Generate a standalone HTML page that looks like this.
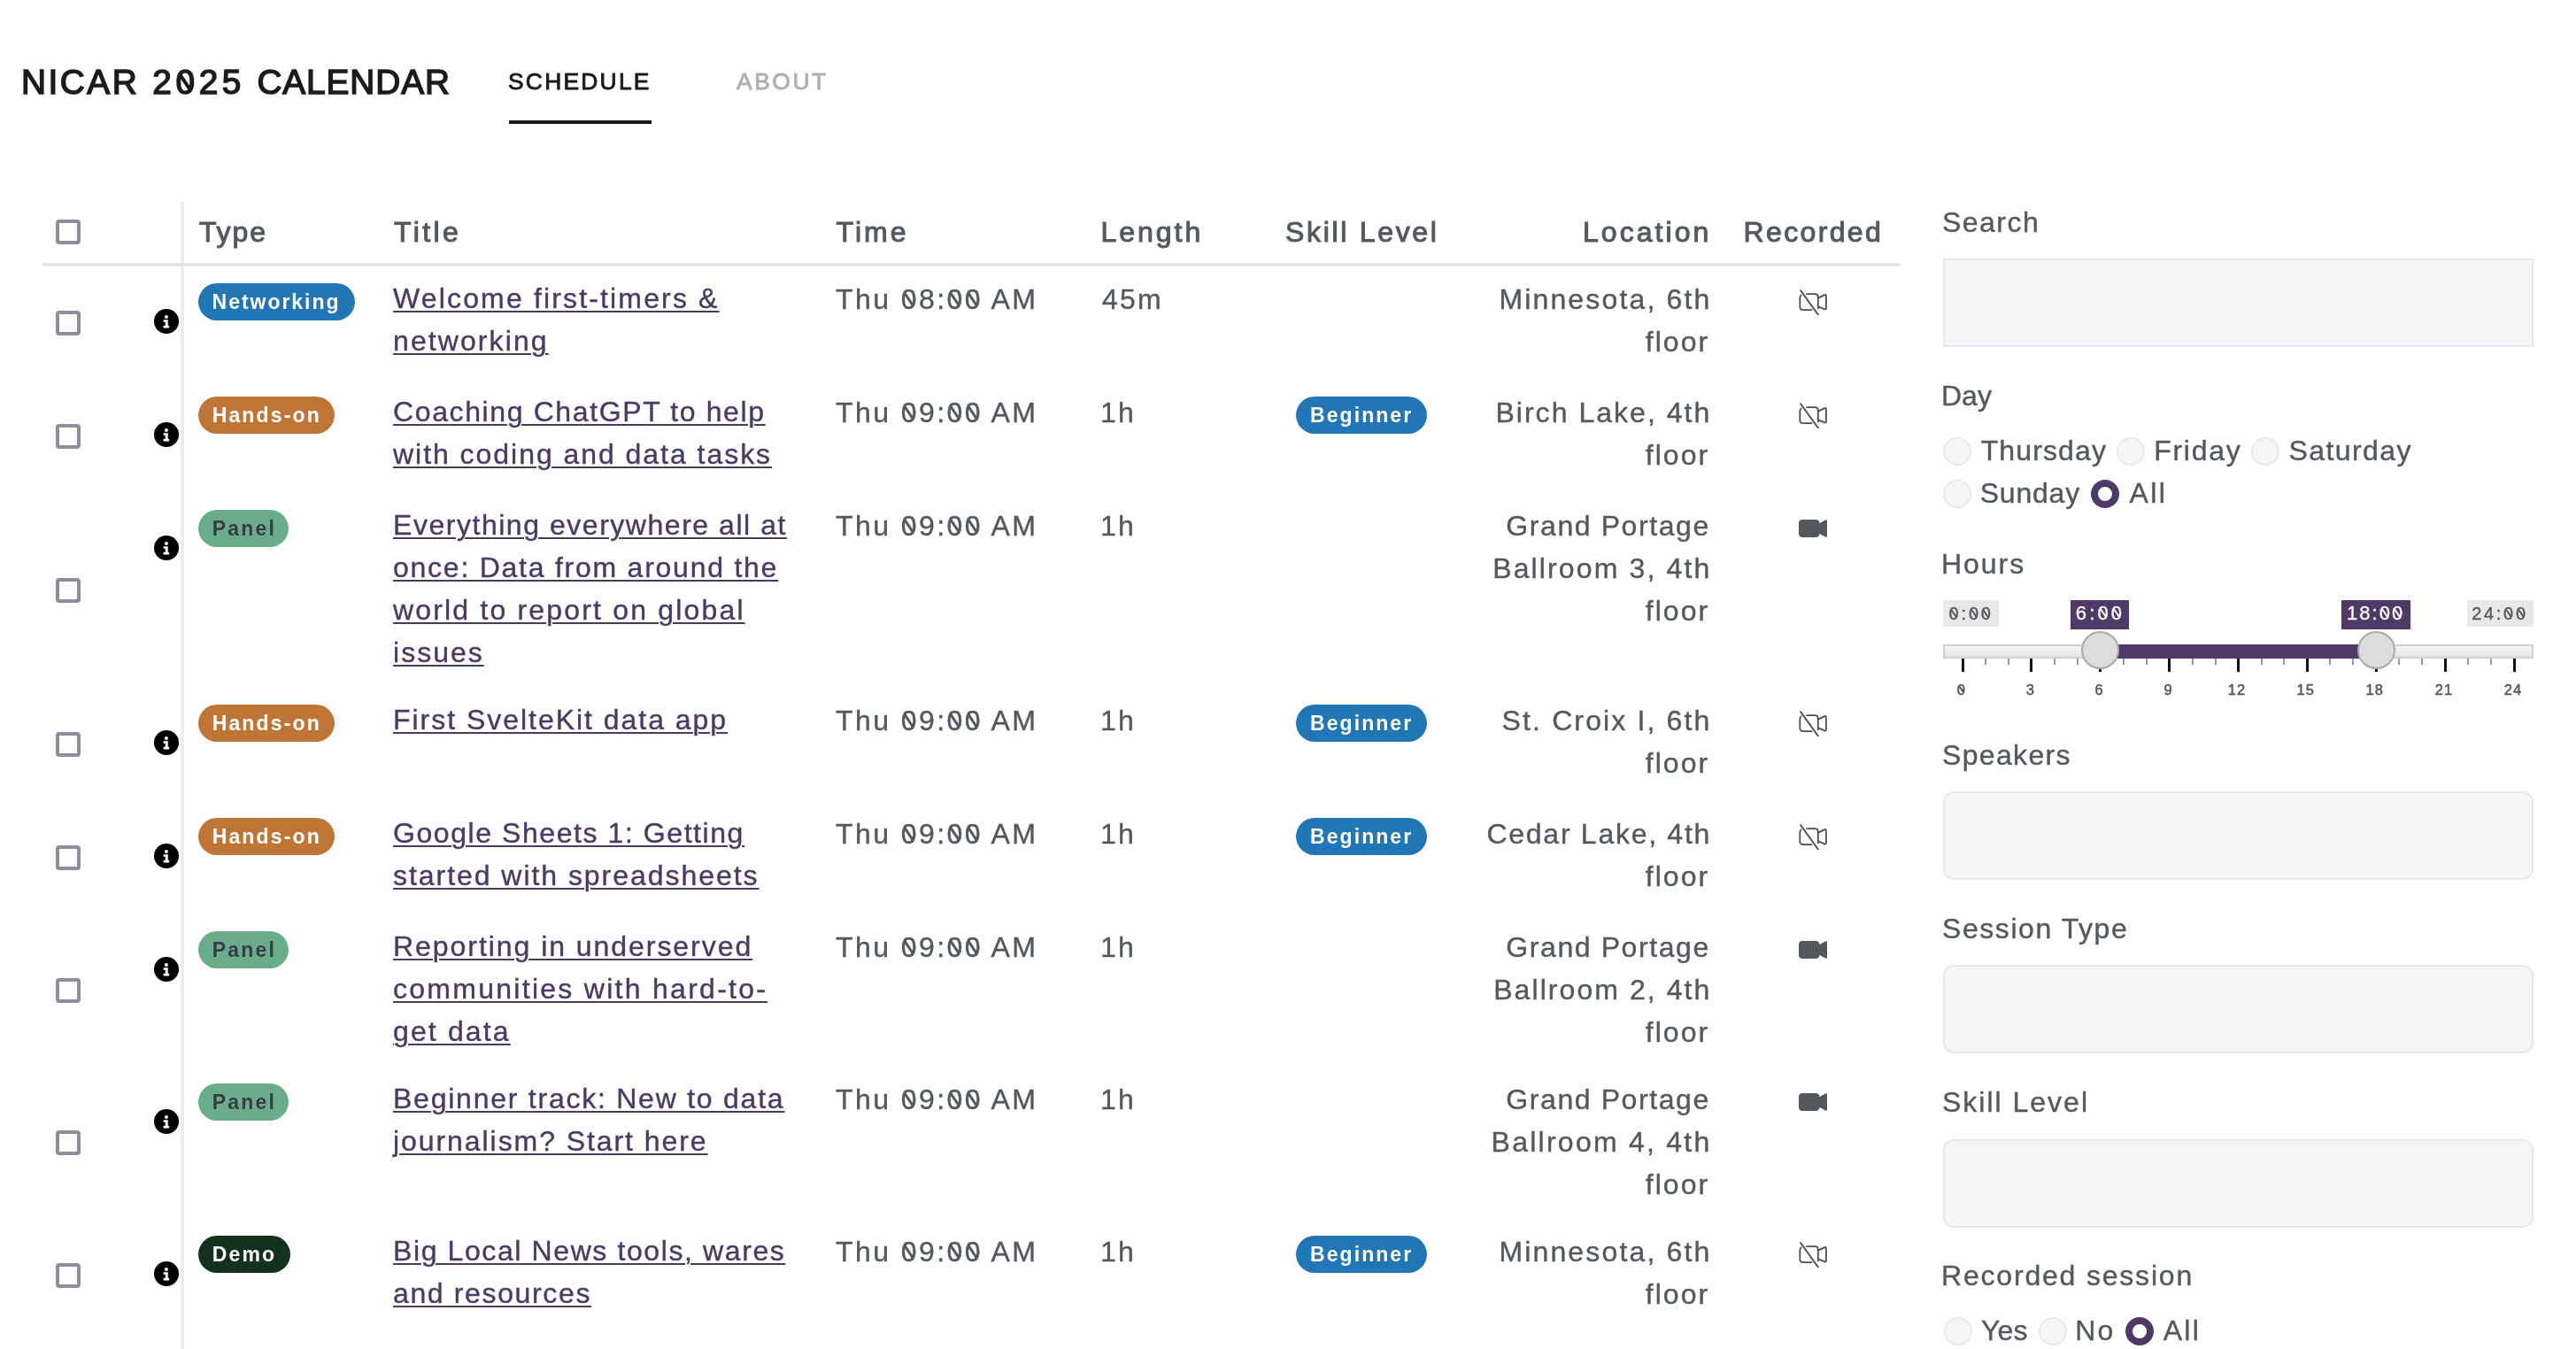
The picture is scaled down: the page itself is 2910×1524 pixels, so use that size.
<!DOCTYPE html><html><head><meta charset="utf-8"><style>
html,body{margin:0;padding:0;background:#fff}
body{width:2910px;height:1524px;position:relative;overflow:hidden;will-change:transform;font-family:"Liberation Sans",sans-serif}
.a{position:absolute;white-space:nowrap}
@media (max-width:2000px){html{zoom:0.5}}
.cb{position:absolute;left:63px;width:19.6px;height:19.6px;border:4px solid #8e8c9c;border-radius:4px;background:#fff}
.info{position:absolute;left:174px;width:28px;height:28px;border-radius:50%;background:#000}
.bd{position:absolute;height:42px;border-radius:21px}
.inp{position:absolute;left:2195px;width:663px;height:96px;border:2px solid #e8e9ec;background:#f5f6f8;border-radius:12px}
.rd{position:absolute;width:28px;height:28px;border:2px solid #e8e9ec;background:#f5f6f8;border-radius:50%}
.rs{position:absolute;width:16px;height:16px;border:8px solid #4f3966;background:#fff;border-radius:50%}
.u{text-decoration:underline;text-decoration-thickness:2px;text-underline-offset:3px}
</style></head><body>
<div class="a" style="left:23.95px;top:68.06px;font-size:38.8px;line-height:50px;color:#1b1b1b;font-weight:400;letter-spacing:2.502px;font-family:'Liberation Sans', sans-serif;-webkit-text-stroke:1.5px #1b1b1b;">NICAR</div>
<div class="a" style="left:172.35px;top:68.06px;font-size:38.8px;line-height:50px;color:#1b1b1b;font-weight:400;letter-spacing:4.556px;font-family:'Liberation Sans', sans-serif;-webkit-text-stroke:1.5px #1b1b1b;">2<span style="position:relative">0<span style="position:absolute;left:9.00px;top:11.83px;width:3.57px;height:19.40px;background:currentColor;transform:rotate(-34deg)"></span></span>25</div>
<div class="a" style="left:290.45px;top:68.06px;font-size:38.8px;line-height:50px;color:#1b1b1b;font-weight:400;letter-spacing:0.891px;font-family:'Liberation Sans', sans-serif;-webkit-text-stroke:1.5px #1b1b1b;">CALENDAR</div>
<div class="a" style="left:574.00px;top:71.75px;font-size:26.4px;line-height:40px;color:#1b1b1b;font-weight:400;letter-spacing:2.241px;font-family:'Liberation Sans', sans-serif;-webkit-text-stroke:0.9px #1b1b1b;">SCHEDULE</div>
<div class="a" style="left:575px;top:136px;width:161px;height:4px;background:#1b1b1b"></div>
<div class="a" style="left:832.00px;top:71.75px;font-size:26.4px;line-height:40px;color:#b0b0b0;font-weight:400;letter-spacing:2.552px;font-family:'Liberation Sans', sans-serif;-webkit-text-stroke:0.9px #b0b0b0;">ABOUT</div>
<div class="a" style="left:204px;top:228px;width:4px;height:1296px;background:#ececec"></div>
<div class="a" style="left:48px;top:297px;width:2099px;height:4px;background:#e6e6e6"></div>
<div class="cb" style="top:248px"></div>
<div class="a" style="left:224.90px;top:238.21px;font-size:32px;line-height:48px;color:#54595e;font-weight:400;letter-spacing:1.907px;font-family:'Liberation Sans', sans-serif;-webkit-text-stroke:1.05px #54595e;">Type</div>
<div class="a" style="left:445.00px;top:238.21px;font-size:32px;line-height:48px;color:#54595e;font-weight:400;letter-spacing:3.383px;font-family:'Liberation Sans', sans-serif;-webkit-text-stroke:1.05px #54595e;">Title</div>
<div class="a" style="left:944.50px;top:238.21px;font-size:32px;line-height:48px;color:#54595e;font-weight:400;letter-spacing:3.058px;font-family:'Liberation Sans', sans-serif;-webkit-text-stroke:1.05px #54595e;">Time</div>
<div class="a" style="left:1243.50px;top:238.21px;font-size:32px;line-height:48px;color:#54595e;font-weight:400;letter-spacing:2.984px;font-family:'Liberation Sans', sans-serif;-webkit-text-stroke:1.05px #54595e;">Length</div>
<div class="a" style="left:1452.00px;top:238.21px;font-size:32px;line-height:48px;color:#54595e;font-weight:400;letter-spacing:2.685px;font-family:'Liberation Sans', sans-serif;-webkit-text-stroke:1.05px #54595e;">Skill Level</div>
<div class="a" style="left:1788.00px;top:238.21px;font-size:32px;line-height:48px;color:#54595e;font-weight:400;letter-spacing:3.045px;font-family:'Liberation Sans', sans-serif;-webkit-text-stroke:1.05px #54595e;">Location</div>
<div class="a" style="left:1969.50px;top:238.21px;font-size:32px;line-height:48px;color:#54595e;font-weight:400;letter-spacing:2.364px;font-family:'Liberation Sans', sans-serif;-webkit-text-stroke:1.05px #54595e;">Recorded</div>
<div class="cb" style="top:351.2px"></div>
<div class="info" style="top:349.3px"><svg width="28" height="28" viewBox="0 0 28 28"><circle cx="13.9" cy="8.9" r="2" fill="#fff"/><path d="M10.9 12.6 H15.4 V19.1 H16.8 V21.2 H10.9 V19.1 H13.1 V14.4 H10.9 Z" fill="#fff" stroke="#fff" stroke-width="0.6" stroke-linejoin="round"/></svg></div>
<div class="bd" style="left:224px;top:320px;width:177px;background:#2176b5"></div>
<div class="a" style="left:239.60px;top:325.93px;font-size:23px;line-height:30px;color:#fff;font-weight:700;letter-spacing:1.969px;font-family:'Liberation Sans', sans-serif;">Networking</div>
<div class="a" style="left:444.00px;top:313.41px;font-size:32px;line-height:48px;color:#4b3b63;font-weight:400;letter-spacing:2.154px;font-family:'Liberation Sans', sans-serif;-webkit-text-stroke:0.4px #4b3b63;"><span class="u">Welcome first-timers &amp;</span></div>
<div class="a" style="left:444.00px;top:361.41px;font-size:32px;line-height:48px;color:#4b3b63;font-weight:400;letter-spacing:2.094px;font-family:'Liberation Sans', sans-serif;-webkit-text-stroke:0.4px #4b3b63;"><span class="u">networking</span></div>
<div class="a" style="left:944.00px;top:314.41px;font-size:32px;line-height:48px;color:#54595e;font-weight:400;letter-spacing:2.423px;font-family:'Liberation Sans', sans-serif;-webkit-text-stroke:0.4px #54595e;">Thu <span style="position:relative">0<span style="position:absolute;left:7.42px;top:9.76px;width:2.94px;height:16.00px;background:currentColor;transform:rotate(-34deg)"></span></span>8:<span style="position:relative">0<span style="position:absolute;left:7.42px;top:9.76px;width:2.94px;height:16.00px;background:currentColor;transform:rotate(-34deg)"></span></span><span style="position:relative">0<span style="position:absolute;left:7.42px;top:9.76px;width:2.94px;height:16.00px;background:currentColor;transform:rotate(-34deg)"></span></span> AM</div>
<div class="a" style="left:1245.00px;top:314.41px;font-size:32px;line-height:48px;color:#54595e;font-weight:400;letter-spacing:2.200px;font-family:'Liberation Sans', sans-serif;-webkit-text-stroke:0.4px #54595e;">45m</div>
<div class="a" style="left:1693.40px;top:314.41px;font-size:32px;line-height:48px;color:#54595e;font-weight:400;letter-spacing:2.153px;font-family:'Liberation Sans', sans-serif;-webkit-text-stroke:0.4px #54595e;">Minnesota, 6th</div>
<div class="a" style="left:1858.80px;top:362.41px;font-size:32px;line-height:48px;color:#54595e;font-weight:400;letter-spacing:2.027px;font-family:'Liberation Sans', sans-serif;-webkit-text-stroke:0.4px #54595e;">floor</div>
<svg class="a" style="left:2031px;top:326px" width="34" height="30" viewBox="0 0 34 30" fill="none" stroke="#4a4e52" stroke-width="1.8" stroke-linecap="round" stroke-linejoin="round"><g transform="translate(0.3,0.6)"><path d="M3.3 6.8 Q2 8 2 10 V20 Q2 23.5 5.5 23.5 H15.3"/><path d="M9.8 5.5 H19 Q22.5 5.5 22.5 9 V21.8"/><path d="M22.8 10 L30 6.5 Q31.6 6 31.6 7.8 V21.6 Q31.6 23.4 30 22.8 L22.8 19.8"/><path d="M2.8 1.5 L22.6 29"/></g></svg>
<div class="cb" style="top:479.2px"></div>
<div class="info" style="top:477.3px"><svg width="28" height="28" viewBox="0 0 28 28"><circle cx="13.9" cy="8.9" r="2" fill="#fff"/><path d="M10.9 12.6 H15.4 V19.1 H16.8 V21.2 H10.9 V19.1 H13.1 V14.4 H10.9 Z" fill="#fff" stroke="#fff" stroke-width="0.6" stroke-linejoin="round"/></svg></div>
<div class="bd" style="left:224px;top:448px;width:154px;background:#be7535"></div>
<div class="a" style="left:239.70px;top:453.93px;font-size:23px;line-height:30px;color:#fff;font-weight:700;letter-spacing:2.143px;font-family:'Liberation Sans', sans-serif;">Hands-on</div>
<div class="a" style="left:444.00px;top:441.41px;font-size:32px;line-height:48px;color:#4b3b63;font-weight:400;letter-spacing:1.616px;font-family:'Liberation Sans', sans-serif;-webkit-text-stroke:0.4px #4b3b63;"><span class="u">Coaching ChatGPT to help</span></div>
<div class="a" style="left:444.00px;top:489.41px;font-size:32px;line-height:48px;color:#4b3b63;font-weight:400;letter-spacing:1.959px;font-family:'Liberation Sans', sans-serif;-webkit-text-stroke:0.4px #4b3b63;"><span class="u">with coding and data tasks</span></div>
<div class="a" style="left:944.00px;top:442.41px;font-size:32px;line-height:48px;color:#54595e;font-weight:400;letter-spacing:2.423px;font-family:'Liberation Sans', sans-serif;-webkit-text-stroke:0.4px #54595e;">Thu <span style="position:relative">0<span style="position:absolute;left:7.42px;top:9.76px;width:2.94px;height:16.00px;background:currentColor;transform:rotate(-34deg)"></span></span>9:<span style="position:relative">0<span style="position:absolute;left:7.42px;top:9.76px;width:2.94px;height:16.00px;background:currentColor;transform:rotate(-34deg)"></span></span><span style="position:relative">0<span style="position:absolute;left:7.42px;top:9.76px;width:2.94px;height:16.00px;background:currentColor;transform:rotate(-34deg)"></span></span> AM</div>
<div class="a" style="left:1243.00px;top:442.41px;font-size:32px;line-height:48px;color:#54595e;font-weight:400;letter-spacing:2.200px;font-family:'Liberation Sans', sans-serif;-webkit-text-stroke:0.4px #54595e;">1h</div>
<div class="bd" style="left:1464px;top:448px;width:148px;background:#2176b5"></div>
<div class="a" style="left:1480.10px;top:453.93px;font-size:23px;line-height:30px;color:#fff;font-weight:700;letter-spacing:2.053px;font-family:'Liberation Sans', sans-serif;">Beginner</div>
<div class="a" style="left:1689.40px;top:442.41px;font-size:32px;line-height:48px;color:#54595e;font-weight:400;letter-spacing:2.032px;font-family:'Liberation Sans', sans-serif;-webkit-text-stroke:0.4px #54595e;">Birch Lake, 4th</div>
<div class="a" style="left:1858.80px;top:490.41px;font-size:32px;line-height:48px;color:#54595e;font-weight:400;letter-spacing:2.027px;font-family:'Liberation Sans', sans-serif;-webkit-text-stroke:0.4px #54595e;">floor</div>
<svg class="a" style="left:2031px;top:454px" width="34" height="30" viewBox="0 0 34 30" fill="none" stroke="#4a4e52" stroke-width="1.8" stroke-linecap="round" stroke-linejoin="round"><g transform="translate(0.3,0.6)"><path d="M3.3 6.8 Q2 8 2 10 V20 Q2 23.5 5.5 23.5 H15.3"/><path d="M9.8 5.5 H19 Q22.5 5.5 22.5 9 V21.8"/><path d="M22.8 10 L30 6.5 Q31.6 6 31.6 7.8 V21.6 Q31.6 23.4 30 22.8 L22.8 19.8"/><path d="M2.8 1.5 L22.6 29"/></g></svg>
<div class="cb" style="top:653.2px"></div>
<div class="info" style="top:605.3px"><svg width="28" height="28" viewBox="0 0 28 28"><circle cx="13.9" cy="8.9" r="2" fill="#fff"/><path d="M10.9 12.6 H15.4 V19.1 H16.8 V21.2 H10.9 V19.1 H13.1 V14.4 H10.9 Z" fill="#fff" stroke="#fff" stroke-width="0.6" stroke-linejoin="round"/></svg></div>
<div class="bd" style="left:224px;top:576px;width:102px;background:#6aad8a"></div>
<div class="a" style="left:239.70px;top:581.93px;font-size:23px;line-height:30px;color:#3a3a48;font-weight:700;letter-spacing:2.207px;font-family:'Liberation Sans', sans-serif;">Panel</div>
<div class="a" style="left:444.00px;top:569.41px;font-size:32px;line-height:48px;color:#4b3b63;font-weight:400;letter-spacing:1.534px;font-family:'Liberation Sans', sans-serif;-webkit-text-stroke:0.4px #4b3b63;"><span class="u">Everything everywhere all at</span></div>
<div class="a" style="left:444.00px;top:617.41px;font-size:32px;line-height:48px;color:#4b3b63;font-weight:400;letter-spacing:1.753px;font-family:'Liberation Sans', sans-serif;-webkit-text-stroke:0.4px #4b3b63;"><span class="u">once: Data from around the</span></div>
<div class="a" style="left:444.00px;top:665.41px;font-size:32px;line-height:48px;color:#4b3b63;font-weight:400;letter-spacing:2.175px;font-family:'Liberation Sans', sans-serif;-webkit-text-stroke:0.4px #4b3b63;"><span class="u">world to report on global</span></div>
<div class="a" style="left:444.00px;top:713.41px;font-size:32px;line-height:48px;color:#4b3b63;font-weight:400;letter-spacing:2.019px;font-family:'Liberation Sans', sans-serif;-webkit-text-stroke:0.4px #4b3b63;"><span class="u">issues</span></div>
<div class="a" style="left:944.00px;top:570.41px;font-size:32px;line-height:48px;color:#54595e;font-weight:400;letter-spacing:2.423px;font-family:'Liberation Sans', sans-serif;-webkit-text-stroke:0.4px #54595e;">Thu <span style="position:relative">0<span style="position:absolute;left:7.42px;top:9.76px;width:2.94px;height:16.00px;background:currentColor;transform:rotate(-34deg)"></span></span>9:<span style="position:relative">0<span style="position:absolute;left:7.42px;top:9.76px;width:2.94px;height:16.00px;background:currentColor;transform:rotate(-34deg)"></span></span><span style="position:relative">0<span style="position:absolute;left:7.42px;top:9.76px;width:2.94px;height:16.00px;background:currentColor;transform:rotate(-34deg)"></span></span> AM</div>
<div class="a" style="left:1243.00px;top:570.41px;font-size:32px;line-height:48px;color:#54595e;font-weight:400;letter-spacing:2.200px;font-family:'Liberation Sans', sans-serif;-webkit-text-stroke:0.4px #54595e;">1h</div>
<div class="a" style="left:1701.30px;top:570.41px;font-size:32px;line-height:48px;color:#54595e;font-weight:400;letter-spacing:1.591px;font-family:'Liberation Sans', sans-serif;-webkit-text-stroke:0.4px #54595e;">Grand Portage</div>
<div class="a" style="left:1686.20px;top:618.41px;font-size:32px;line-height:48px;color:#54595e;font-weight:400;letter-spacing:2.134px;font-family:'Liberation Sans', sans-serif;-webkit-text-stroke:0.4px #54595e;">Ballroom 3, 4th</div>
<div class="a" style="left:1858.80px;top:666.41px;font-size:32px;line-height:48px;color:#54595e;font-weight:400;letter-spacing:2.027px;font-family:'Liberation Sans', sans-serif;-webkit-text-stroke:0.4px #54595e;">floor</div>
<svg class="a" style="left:2031px;top:586px" width="34" height="22" viewBox="0 0 34 22" fill="#54585c"><path d="M5 1 H20 Q24 1 24.5 5 L31.5 1.3 Q33 0.8 33 2.5 V19.5 Q33 21.2 31.5 20.7 L24.5 17 Q24 21 20 21 H5 Q1 21 1 17 V5 Q1 1 5 1 Z"/></svg>
<div class="cb" style="top:827.2px"></div>
<div class="info" style="top:825.3px"><svg width="28" height="28" viewBox="0 0 28 28"><circle cx="13.9" cy="8.9" r="2" fill="#fff"/><path d="M10.9 12.6 H15.4 V19.1 H16.8 V21.2 H10.9 V19.1 H13.1 V14.4 H10.9 Z" fill="#fff" stroke="#fff" stroke-width="0.6" stroke-linejoin="round"/></svg></div>
<div class="bd" style="left:224px;top:796px;width:154px;background:#be7535"></div>
<div class="a" style="left:239.70px;top:801.93px;font-size:23px;line-height:30px;color:#fff;font-weight:700;letter-spacing:2.143px;font-family:'Liberation Sans', sans-serif;">Hands-on</div>
<div class="a" style="left:444.00px;top:789.41px;font-size:32px;line-height:48px;color:#4b3b63;font-weight:400;letter-spacing:1.968px;font-family:'Liberation Sans', sans-serif;-webkit-text-stroke:0.4px #4b3b63;"><span class="u">First SvelteKit data app</span></div>
<div class="a" style="left:944.00px;top:790.41px;font-size:32px;line-height:48px;color:#54595e;font-weight:400;letter-spacing:2.423px;font-family:'Liberation Sans', sans-serif;-webkit-text-stroke:0.4px #54595e;">Thu <span style="position:relative">0<span style="position:absolute;left:7.42px;top:9.76px;width:2.94px;height:16.00px;background:currentColor;transform:rotate(-34deg)"></span></span>9:<span style="position:relative">0<span style="position:absolute;left:7.42px;top:9.76px;width:2.94px;height:16.00px;background:currentColor;transform:rotate(-34deg)"></span></span><span style="position:relative">0<span style="position:absolute;left:7.42px;top:9.76px;width:2.94px;height:16.00px;background:currentColor;transform:rotate(-34deg)"></span></span> AM</div>
<div class="a" style="left:1243.00px;top:790.41px;font-size:32px;line-height:48px;color:#54595e;font-weight:400;letter-spacing:2.200px;font-family:'Liberation Sans', sans-serif;-webkit-text-stroke:0.4px #54595e;">1h</div>
<div class="bd" style="left:1464px;top:796px;width:148px;background:#2176b5"></div>
<div class="a" style="left:1480.10px;top:801.93px;font-size:23px;line-height:30px;color:#fff;font-weight:700;letter-spacing:2.053px;font-family:'Liberation Sans', sans-serif;">Beginner</div>
<div class="a" style="left:1696.60px;top:790.41px;font-size:32px;line-height:48px;color:#54595e;font-weight:400;letter-spacing:2.131px;font-family:'Liberation Sans', sans-serif;-webkit-text-stroke:0.4px #54595e;">St. Croix I, 6th</div>
<div class="a" style="left:1858.80px;top:838.41px;font-size:32px;line-height:48px;color:#54595e;font-weight:400;letter-spacing:2.027px;font-family:'Liberation Sans', sans-serif;-webkit-text-stroke:0.4px #54595e;">floor</div>
<svg class="a" style="left:2031px;top:802px" width="34" height="30" viewBox="0 0 34 30" fill="none" stroke="#4a4e52" stroke-width="1.8" stroke-linecap="round" stroke-linejoin="round"><g transform="translate(0.3,0.6)"><path d="M3.3 6.8 Q2 8 2 10 V20 Q2 23.5 5.5 23.5 H15.3"/><path d="M9.8 5.5 H19 Q22.5 5.5 22.5 9 V21.8"/><path d="M22.8 10 L30 6.5 Q31.6 6 31.6 7.8 V21.6 Q31.6 23.4 30 22.8 L22.8 19.8"/><path d="M2.8 1.5 L22.6 29"/></g></svg>
<div class="cb" style="top:955.2px"></div>
<div class="info" style="top:953.3px"><svg width="28" height="28" viewBox="0 0 28 28"><circle cx="13.9" cy="8.9" r="2" fill="#fff"/><path d="M10.9 12.6 H15.4 V19.1 H16.8 V21.2 H10.9 V19.1 H13.1 V14.4 H10.9 Z" fill="#fff" stroke="#fff" stroke-width="0.6" stroke-linejoin="round"/></svg></div>
<div class="bd" style="left:224px;top:924px;width:154px;background:#be7535"></div>
<div class="a" style="left:239.70px;top:929.93px;font-size:23px;line-height:30px;color:#fff;font-weight:700;letter-spacing:2.143px;font-family:'Liberation Sans', sans-serif;">Hands-on</div>
<div class="a" style="left:444.00px;top:917.41px;font-size:32px;line-height:48px;color:#4b3b63;font-weight:400;letter-spacing:1.568px;font-family:'Liberation Sans', sans-serif;-webkit-text-stroke:0.4px #4b3b63;"><span class="u">Google Sheets 1: Getting</span></div>
<div class="a" style="left:444.00px;top:965.41px;font-size:32px;line-height:48px;color:#4b3b63;font-weight:400;letter-spacing:1.952px;font-family:'Liberation Sans', sans-serif;-webkit-text-stroke:0.4px #4b3b63;"><span class="u">started with spreadsheets</span></div>
<div class="a" style="left:944.00px;top:918.41px;font-size:32px;line-height:48px;color:#54595e;font-weight:400;letter-spacing:2.423px;font-family:'Liberation Sans', sans-serif;-webkit-text-stroke:0.4px #54595e;">Thu <span style="position:relative">0<span style="position:absolute;left:7.42px;top:9.76px;width:2.94px;height:16.00px;background:currentColor;transform:rotate(-34deg)"></span></span>9:<span style="position:relative">0<span style="position:absolute;left:7.42px;top:9.76px;width:2.94px;height:16.00px;background:currentColor;transform:rotate(-34deg)"></span></span><span style="position:relative">0<span style="position:absolute;left:7.42px;top:9.76px;width:2.94px;height:16.00px;background:currentColor;transform:rotate(-34deg)"></span></span> AM</div>
<div class="a" style="left:1243.00px;top:918.41px;font-size:32px;line-height:48px;color:#54595e;font-weight:400;letter-spacing:2.200px;font-family:'Liberation Sans', sans-serif;-webkit-text-stroke:0.4px #54595e;">1h</div>
<div class="bd" style="left:1464px;top:924px;width:148px;background:#2176b5"></div>
<div class="a" style="left:1480.10px;top:929.93px;font-size:23px;line-height:30px;color:#fff;font-weight:700;letter-spacing:2.053px;font-family:'Liberation Sans', sans-serif;">Beginner</div>
<div class="a" style="left:1679.50px;top:918.41px;font-size:32px;line-height:48px;color:#54595e;font-weight:400;letter-spacing:1.721px;font-family:'Liberation Sans', sans-serif;-webkit-text-stroke:0.4px #54595e;">Cedar Lake, 4th</div>
<div class="a" style="left:1858.80px;top:966.41px;font-size:32px;line-height:48px;color:#54595e;font-weight:400;letter-spacing:2.027px;font-family:'Liberation Sans', sans-serif;-webkit-text-stroke:0.4px #54595e;">floor</div>
<svg class="a" style="left:2031px;top:930px" width="34" height="30" viewBox="0 0 34 30" fill="none" stroke="#4a4e52" stroke-width="1.8" stroke-linecap="round" stroke-linejoin="round"><g transform="translate(0.3,0.6)"><path d="M3.3 6.8 Q2 8 2 10 V20 Q2 23.5 5.5 23.5 H15.3"/><path d="M9.8 5.5 H19 Q22.5 5.5 22.5 9 V21.8"/><path d="M22.8 10 L30 6.5 Q31.6 6 31.6 7.8 V21.6 Q31.6 23.4 30 22.8 L22.8 19.8"/><path d="M2.8 1.5 L22.6 29"/></g></svg>
<div class="cb" style="top:1105.2px"></div>
<div class="info" style="top:1081.3px"><svg width="28" height="28" viewBox="0 0 28 28"><circle cx="13.9" cy="8.9" r="2" fill="#fff"/><path d="M10.9 12.6 H15.4 V19.1 H16.8 V21.2 H10.9 V19.1 H13.1 V14.4 H10.9 Z" fill="#fff" stroke="#fff" stroke-width="0.6" stroke-linejoin="round"/></svg></div>
<div class="bd" style="left:224px;top:1052px;width:102px;background:#6aad8a"></div>
<div class="a" style="left:239.70px;top:1057.93px;font-size:23px;line-height:30px;color:#3a3a48;font-weight:700;letter-spacing:2.207px;font-family:'Liberation Sans', sans-serif;">Panel</div>
<div class="a" style="left:444.00px;top:1045.41px;font-size:32px;line-height:48px;color:#4b3b63;font-weight:400;letter-spacing:1.951px;font-family:'Liberation Sans', sans-serif;-webkit-text-stroke:0.4px #4b3b63;"><span class="u">Reporting in underserved</span></div>
<div class="a" style="left:444.00px;top:1093.41px;font-size:32px;line-height:48px;color:#4b3b63;font-weight:400;letter-spacing:2.276px;font-family:'Liberation Sans', sans-serif;-webkit-text-stroke:0.4px #4b3b63;"><span class="u">communities with hard-to-</span></div>
<div class="a" style="left:444.00px;top:1141.41px;font-size:32px;line-height:48px;color:#4b3b63;font-weight:400;letter-spacing:2.134px;font-family:'Liberation Sans', sans-serif;-webkit-text-stroke:0.4px #4b3b63;"><span class="u">get data</span></div>
<div class="a" style="left:944.00px;top:1046.41px;font-size:32px;line-height:48px;color:#54595e;font-weight:400;letter-spacing:2.423px;font-family:'Liberation Sans', sans-serif;-webkit-text-stroke:0.4px #54595e;">Thu <span style="position:relative">0<span style="position:absolute;left:7.42px;top:9.76px;width:2.94px;height:16.00px;background:currentColor;transform:rotate(-34deg)"></span></span>9:<span style="position:relative">0<span style="position:absolute;left:7.42px;top:9.76px;width:2.94px;height:16.00px;background:currentColor;transform:rotate(-34deg)"></span></span><span style="position:relative">0<span style="position:absolute;left:7.42px;top:9.76px;width:2.94px;height:16.00px;background:currentColor;transform:rotate(-34deg)"></span></span> AM</div>
<div class="a" style="left:1243.00px;top:1046.41px;font-size:32px;line-height:48px;color:#54595e;font-weight:400;letter-spacing:2.200px;font-family:'Liberation Sans', sans-serif;-webkit-text-stroke:0.4px #54595e;">1h</div>
<div class="a" style="left:1701.30px;top:1046.41px;font-size:32px;line-height:48px;color:#54595e;font-weight:400;letter-spacing:1.591px;font-family:'Liberation Sans', sans-serif;-webkit-text-stroke:0.4px #54595e;">Grand Portage</div>
<div class="a" style="left:1687.20px;top:1094.41px;font-size:32px;line-height:48px;color:#54595e;font-weight:400;letter-spacing:2.063px;font-family:'Liberation Sans', sans-serif;-webkit-text-stroke:0.4px #54595e;">Ballroom 2, 4th</div>
<div class="a" style="left:1858.80px;top:1142.41px;font-size:32px;line-height:48px;color:#54595e;font-weight:400;letter-spacing:2.027px;font-family:'Liberation Sans', sans-serif;-webkit-text-stroke:0.4px #54595e;">floor</div>
<svg class="a" style="left:2031px;top:1062px" width="34" height="22" viewBox="0 0 34 22" fill="#54585c"><path d="M5 1 H20 Q24 1 24.5 5 L31.5 1.3 Q33 0.8 33 2.5 V19.5 Q33 21.2 31.5 20.7 L24.5 17 Q24 21 20 21 H5 Q1 21 1 17 V5 Q1 1 5 1 Z"/></svg>
<div class="cb" style="top:1277.2px"></div>
<div class="info" style="top:1253.3px"><svg width="28" height="28" viewBox="0 0 28 28"><circle cx="13.9" cy="8.9" r="2" fill="#fff"/><path d="M10.9 12.6 H15.4 V19.1 H16.8 V21.2 H10.9 V19.1 H13.1 V14.4 H10.9 Z" fill="#fff" stroke="#fff" stroke-width="0.6" stroke-linejoin="round"/></svg></div>
<div class="bd" style="left:224px;top:1224px;width:102px;background:#6aad8a"></div>
<div class="a" style="left:239.70px;top:1229.93px;font-size:23px;line-height:30px;color:#3a3a48;font-weight:700;letter-spacing:2.207px;font-family:'Liberation Sans', sans-serif;">Panel</div>
<div class="a" style="left:444.00px;top:1217.41px;font-size:32px;line-height:48px;color:#4b3b63;font-weight:400;letter-spacing:1.759px;font-family:'Liberation Sans', sans-serif;-webkit-text-stroke:0.4px #4b3b63;"><span class="u">Beginner track: New to data</span></div>
<div class="a" style="left:444.00px;top:1265.41px;font-size:32px;line-height:48px;color:#4b3b63;font-weight:400;letter-spacing:1.932px;font-family:'Liberation Sans', sans-serif;-webkit-text-stroke:0.4px #4b3b63;"><span class="u">journalism? Start here</span></div>
<div class="a" style="left:944.00px;top:1218.41px;font-size:32px;line-height:48px;color:#54595e;font-weight:400;letter-spacing:2.423px;font-family:'Liberation Sans', sans-serif;-webkit-text-stroke:0.4px #54595e;">Thu <span style="position:relative">0<span style="position:absolute;left:7.42px;top:9.76px;width:2.94px;height:16.00px;background:currentColor;transform:rotate(-34deg)"></span></span>9:<span style="position:relative">0<span style="position:absolute;left:7.42px;top:9.76px;width:2.94px;height:16.00px;background:currentColor;transform:rotate(-34deg)"></span></span><span style="position:relative">0<span style="position:absolute;left:7.42px;top:9.76px;width:2.94px;height:16.00px;background:currentColor;transform:rotate(-34deg)"></span></span> AM</div>
<div class="a" style="left:1243.00px;top:1218.41px;font-size:32px;line-height:48px;color:#54595e;font-weight:400;letter-spacing:2.200px;font-family:'Liberation Sans', sans-serif;-webkit-text-stroke:0.4px #54595e;">1h</div>
<div class="a" style="left:1701.30px;top:1218.41px;font-size:32px;line-height:48px;color:#54595e;font-weight:400;letter-spacing:1.591px;font-family:'Liberation Sans', sans-serif;-webkit-text-stroke:0.4px #54595e;">Grand Portage</div>
<div class="a" style="left:1684.60px;top:1266.41px;font-size:32px;line-height:48px;color:#54595e;font-weight:400;letter-spacing:2.248px;font-family:'Liberation Sans', sans-serif;-webkit-text-stroke:0.4px #54595e;">Ballroom 4, 4th</div>
<div class="a" style="left:1858.80px;top:1314.41px;font-size:32px;line-height:48px;color:#54595e;font-weight:400;letter-spacing:2.027px;font-family:'Liberation Sans', sans-serif;-webkit-text-stroke:0.4px #54595e;">floor</div>
<svg class="a" style="left:2031px;top:1234px" width="34" height="22" viewBox="0 0 34 22" fill="#54585c"><path d="M5 1 H20 Q24 1 24.5 5 L31.5 1.3 Q33 0.8 33 2.5 V19.5 Q33 21.2 31.5 20.7 L24.5 17 Q24 21 20 21 H5 Q1 21 1 17 V5 Q1 1 5 1 Z"/></svg>
<div class="cb" style="top:1427.2px"></div>
<div class="info" style="top:1425.3px"><svg width="28" height="28" viewBox="0 0 28 28"><circle cx="13.9" cy="8.9" r="2" fill="#fff"/><path d="M10.9 12.6 H15.4 V19.1 H16.8 V21.2 H10.9 V19.1 H13.1 V14.4 H10.9 Z" fill="#fff" stroke="#fff" stroke-width="0.6" stroke-linejoin="round"/></svg></div>
<div class="bd" style="left:224px;top:1396px;width:104px;background:#12321f"></div>
<div class="a" style="left:239.80px;top:1401.93px;font-size:23px;line-height:30px;color:#fff;font-weight:700;letter-spacing:2.116px;font-family:'Liberation Sans', sans-serif;">Demo</div>
<div class="a" style="left:444.00px;top:1389.41px;font-size:32px;line-height:48px;color:#4b3b63;font-weight:400;letter-spacing:1.601px;font-family:'Liberation Sans', sans-serif;-webkit-text-stroke:0.4px #4b3b63;"><span class="u">Big Local News tools, wares</span></div>
<div class="a" style="left:444.00px;top:1437.41px;font-size:32px;line-height:48px;color:#4b3b63;font-weight:400;letter-spacing:1.635px;font-family:'Liberation Sans', sans-serif;-webkit-text-stroke:0.4px #4b3b63;"><span class="u">and resources</span></div>
<div class="a" style="left:944.00px;top:1390.41px;font-size:32px;line-height:48px;color:#54595e;font-weight:400;letter-spacing:2.423px;font-family:'Liberation Sans', sans-serif;-webkit-text-stroke:0.4px #54595e;">Thu <span style="position:relative">0<span style="position:absolute;left:7.42px;top:9.76px;width:2.94px;height:16.00px;background:currentColor;transform:rotate(-34deg)"></span></span>9:<span style="position:relative">0<span style="position:absolute;left:7.42px;top:9.76px;width:2.94px;height:16.00px;background:currentColor;transform:rotate(-34deg)"></span></span><span style="position:relative">0<span style="position:absolute;left:7.42px;top:9.76px;width:2.94px;height:16.00px;background:currentColor;transform:rotate(-34deg)"></span></span> AM</div>
<div class="a" style="left:1243.00px;top:1390.41px;font-size:32px;line-height:48px;color:#54595e;font-weight:400;letter-spacing:2.200px;font-family:'Liberation Sans', sans-serif;-webkit-text-stroke:0.4px #54595e;">1h</div>
<div class="bd" style="left:1464px;top:1396px;width:148px;background:#2176b5"></div>
<div class="a" style="left:1480.10px;top:1401.93px;font-size:23px;line-height:30px;color:#fff;font-weight:700;letter-spacing:2.053px;font-family:'Liberation Sans', sans-serif;">Beginner</div>
<div class="a" style="left:1693.40px;top:1390.41px;font-size:32px;line-height:48px;color:#54595e;font-weight:400;letter-spacing:2.153px;font-family:'Liberation Sans', sans-serif;-webkit-text-stroke:0.4px #54595e;">Minnesota, 6th</div>
<div class="a" style="left:1858.80px;top:1438.41px;font-size:32px;line-height:48px;color:#54595e;font-weight:400;letter-spacing:2.027px;font-family:'Liberation Sans', sans-serif;-webkit-text-stroke:0.4px #54595e;">floor</div>
<svg class="a" style="left:2031px;top:1402px" width="34" height="30" viewBox="0 0 34 30" fill="none" stroke="#4a4e52" stroke-width="1.8" stroke-linecap="round" stroke-linejoin="round"><g transform="translate(0.3,0.6)"><path d="M3.3 6.8 Q2 8 2 10 V20 Q2 23.5 5.5 23.5 H15.3"/><path d="M9.8 5.5 H19 Q22.5 5.5 22.5 9 V21.8"/><path d="M22.8 10 L30 6.5 Q31.6 6 31.6 7.8 V21.6 Q31.6 23.4 30 22.8 L22.8 19.8"/><path d="M2.8 1.5 L22.6 29"/></g></svg>
<div class="a" style="left:2194.00px;top:227.21px;font-size:32px;line-height:48px;color:#54595e;font-weight:400;letter-spacing:1.461px;font-family:'Liberation Sans', sans-serif;-webkit-text-stroke:0.4px #54595e;">Search</div>
<div class="inp" style="top:292px;border-radius:0"></div>
<div class="a" style="left:2193.00px;top:422.91px;font-size:32px;line-height:48px;color:#54595e;font-weight:400;letter-spacing:-0.003px;font-family:'Liberation Sans', sans-serif;-webkit-text-stroke:0.4px #54595e;">Day</div>
<div class="rd" style="left:2195px;top:494px"></div>
<div class="a" style="left:2237.70px;top:485.21px;font-size:32px;line-height:48px;color:#54595e;font-weight:400;letter-spacing:1.116px;font-family:'Liberation Sans', sans-serif;-webkit-text-stroke:0.4px #54595e;">Thursday</div>
<div class="rd" style="left:2391px;top:494px"></div>
<div class="a" style="left:2433.20px;top:485.21px;font-size:32px;line-height:48px;color:#54595e;font-weight:400;letter-spacing:1.719px;font-family:'Liberation Sans', sans-serif;-webkit-text-stroke:0.4px #54595e;">Friday</div>
<div class="rd" style="left:2543px;top:494px"></div>
<div class="a" style="left:2585.50px;top:485.21px;font-size:32px;line-height:48px;color:#54595e;font-weight:400;letter-spacing:1.417px;font-family:'Liberation Sans', sans-serif;-webkit-text-stroke:0.4px #54595e;">Saturday</div>
<div class="rd" style="left:2195px;top:542px"></div>
<div class="a" style="left:2236.70px;top:533.21px;font-size:32px;line-height:48px;color:#54595e;font-weight:400;letter-spacing:0.794px;font-family:'Liberation Sans', sans-serif;-webkit-text-stroke:0.4px #54595e;">Sunday</div>
<div class="rs" style="left:2362px;top:542px"></div>
<div class="a" style="left:2405.60px;top:533.21px;font-size:32px;line-height:48px;color:#54595e;font-weight:400;letter-spacing:2.373px;font-family:'Liberation Sans', sans-serif;-webkit-text-stroke:0.4px #54595e;">All</div>
<div class="a" style="left:2193.00px;top:612.91px;font-size:32px;line-height:48px;color:#54595e;font-weight:400;letter-spacing:1.960px;font-family:'Liberation Sans', sans-serif;-webkit-text-stroke:0.4px #54595e;">Hours</div>
<div class="a" style="left:2195px;top:678px;width:63px;height:30px;background:#e8e8e8"></div>
<div class="a" style="left:2201.60px;top:678.07px;font-size:20px;line-height:30px;color:#585c60;font-weight:400;letter-spacing:2.799px;font-family:'Liberation Sans', sans-serif;-webkit-text-stroke:0.4px #585c60;"><span style="position:relative">0<span style="position:absolute;left:4.64px;top:6.10px;width:1.84px;height:10.00px;background:currentColor;transform:rotate(-34deg)"></span></span>:<span style="position:relative">0<span style="position:absolute;left:4.64px;top:6.10px;width:1.84px;height:10.00px;background:currentColor;transform:rotate(-34deg)"></span></span><span style="position:relative">0<span style="position:absolute;left:4.64px;top:6.10px;width:1.84px;height:10.00px;background:currentColor;transform:rotate(-34deg)"></span></span></div>
<div class="a" style="left:2339px;top:678px;width:66px;height:33px;background:#4f3966"></div>
<div class="a" style="left:2344.80px;top:678.38px;font-size:22px;line-height:30px;color:#fff;font-weight:400;letter-spacing:3.139px;font-family:'Liberation Sans', sans-serif;-webkit-text-stroke:0.3px #fff;">6:<span style="position:relative">0<span style="position:absolute;left:5.10px;top:6.71px;width:2.02px;height:11.00px;background:currentColor;transform:rotate(-34deg)"></span></span><span style="position:relative">0<span style="position:absolute;left:5.10px;top:6.71px;width:2.02px;height:11.00px;background:currentColor;transform:rotate(-34deg)"></span></span></div>
<div class="a" style="left:2645px;top:678px;width:78px;height:33px;background:#4f3966"></div>
<div class="a" style="left:2651.00px;top:678.38px;font-size:22px;line-height:30px;color:#fff;font-weight:400;letter-spacing:2.045px;font-family:'Liberation Sans', sans-serif;-webkit-text-stroke:0.3px #fff;">18:<span style="position:relative">0<span style="position:absolute;left:5.10px;top:6.71px;width:2.02px;height:11.00px;background:currentColor;transform:rotate(-34deg)"></span></span><span style="position:relative">0<span style="position:absolute;left:5.10px;top:6.71px;width:2.02px;height:11.00px;background:currentColor;transform:rotate(-34deg)"></span></span></div>
<div class="a" style="left:2787px;top:678px;width:75px;height:30px;background:#e8e8e8"></div>
<div class="a" style="left:2792.20px;top:678.07px;font-size:20px;line-height:30px;color:#585c60;font-weight:400;letter-spacing:2.694px;font-family:'Liberation Sans', sans-serif;-webkit-text-stroke:0.4px #585c60;">24:<span style="position:relative">0<span style="position:absolute;left:4.64px;top:6.10px;width:1.84px;height:10.00px;background:currentColor;transform:rotate(-34deg)"></span></span><span style="position:relative">0<span style="position:absolute;left:4.64px;top:6.10px;width:1.84px;height:10.00px;background:currentColor;transform:rotate(-34deg)"></span></span></div>
<div class="a" style="left:2195px;top:728px;width:663px;height:12px;border:2px solid #cfcfcf;background:linear-gradient(#f4f4f4,#e6e6e6)"></div>
<div class="a" style="left:2372px;top:728px;width:312px;height:16px;background:#4f3966"></div>
<div class="a" style="left:2215.5px;top:744px;width:3px;height:15px;background:#111"></div>
<div class="a" style="left:2210.80px;top:766.78px;font-size:16.5px;line-height:24px;color:#54585c;font-weight:400;letter-spacing:1.000px;font-family:'Liberation Sans', sans-serif;-webkit-text-stroke:0.5px #54585c;"><span style="position:relative">0<span style="position:absolute;left:3.83px;top:5.03px;width:1.52px;height:8.25px;background:currentColor;transform:rotate(-34deg)"></span></span></div>
<div class="a" style="left:2242.0px;top:744px;width:2px;height:7px;background:#999"></div>
<div class="a" style="left:2267.9px;top:744px;width:2px;height:7px;background:#999"></div>
<div class="a" style="left:2293.4px;top:744px;width:3px;height:15px;background:#111"></div>
<div class="a" style="left:2288.68px;top:766.78px;font-size:16.5px;line-height:24px;color:#54585c;font-weight:400;letter-spacing:1.000px;font-family:'Liberation Sans', sans-serif;-webkit-text-stroke:0.5px #54585c;">3</div>
<div class="a" style="left:2319.8px;top:744px;width:2px;height:7px;background:#999"></div>
<div class="a" style="left:2345.8px;top:744px;width:2px;height:7px;background:#999"></div>
<div class="a" style="left:2371.3px;top:744px;width:3px;height:15px;background:#111"></div>
<div class="a" style="left:2366.56px;top:766.78px;font-size:16.5px;line-height:24px;color:#54585c;font-weight:400;letter-spacing:1.000px;font-family:'Liberation Sans', sans-serif;-webkit-text-stroke:0.5px #54585c;">6</div>
<div class="a" style="left:2397.7px;top:744px;width:2px;height:7px;background:#999"></div>
<div class="a" style="left:2423.7px;top:744px;width:2px;height:7px;background:#999"></div>
<div class="a" style="left:2449.1px;top:744px;width:3px;height:15px;background:#111"></div>
<div class="a" style="left:2444.44px;top:766.78px;font-size:16.5px;line-height:24px;color:#54585c;font-weight:400;letter-spacing:1.000px;font-family:'Liberation Sans', sans-serif;-webkit-text-stroke:0.5px #54585c;">9</div>
<div class="a" style="left:2475.6px;top:744px;width:2px;height:7px;background:#999"></div>
<div class="a" style="left:2501.6px;top:744px;width:2px;height:7px;background:#999"></div>
<div class="a" style="left:2527.0px;top:744px;width:3px;height:15px;background:#111"></div>
<div class="a" style="left:2516.73px;top:766.78px;font-size:16.5px;line-height:24px;color:#54585c;font-weight:400;letter-spacing:1.000px;font-family:'Liberation Sans', sans-serif;-webkit-text-stroke:0.5px #54585c;">12</div>
<div class="a" style="left:2553.5px;top:744px;width:2px;height:7px;background:#999"></div>
<div class="a" style="left:2579.4px;top:744px;width:2px;height:7px;background:#999"></div>
<div class="a" style="left:2604.9px;top:744px;width:3px;height:15px;background:#111"></div>
<div class="a" style="left:2594.61px;top:766.78px;font-size:16.5px;line-height:24px;color:#54585c;font-weight:400;letter-spacing:1.000px;font-family:'Liberation Sans', sans-serif;-webkit-text-stroke:0.5px #54585c;">15</div>
<div class="a" style="left:2631.4px;top:744px;width:2px;height:7px;background:#999"></div>
<div class="a" style="left:2657.3px;top:744px;width:2px;height:7px;background:#999"></div>
<div class="a" style="left:2682.8px;top:744px;width:3px;height:15px;background:#111"></div>
<div class="a" style="left:2672.49px;top:766.78px;font-size:16.5px;line-height:24px;color:#54585c;font-weight:400;letter-spacing:1.000px;font-family:'Liberation Sans', sans-serif;-webkit-text-stroke:0.5px #54585c;">18</div>
<div class="a" style="left:2709.2px;top:744px;width:2px;height:7px;background:#999"></div>
<div class="a" style="left:2735.2px;top:744px;width:2px;height:7px;background:#999"></div>
<div class="a" style="left:2760.7px;top:744px;width:3px;height:15px;background:#111"></div>
<div class="a" style="left:2750.87px;top:766.78px;font-size:16.5px;line-height:24px;color:#54585c;font-weight:400;letter-spacing:1.000px;font-family:'Liberation Sans', sans-serif;-webkit-text-stroke:0.5px #54585c;">21</div>
<div class="a" style="left:2787.1px;top:744px;width:2px;height:7px;background:#999"></div>
<div class="a" style="left:2813.1px;top:744px;width:2px;height:7px;background:#999"></div>
<div class="a" style="left:2838.5px;top:744px;width:3px;height:15px;background:#111"></div>
<div class="a" style="left:2828.75px;top:766.78px;font-size:16.5px;line-height:24px;color:#54585c;font-weight:400;letter-spacing:1.000px;font-family:'Liberation Sans', sans-serif;-webkit-text-stroke:0.5px #54585c;">24</div>
<div class="a" style="left:2350.5px;top:712.5px;width:39px;height:39px;border:2px solid #a9a9a9;border-radius:50%;background:#dcdcdc"></div>
<div class="a" style="left:2662.5px;top:712.5px;width:39px;height:39px;border:2px solid #a9a9a9;border-radius:50%;background:#dcdcdc"></div>
<div class="a" style="left:2194.00px;top:829.41px;font-size:32px;line-height:48px;color:#54595e;font-weight:400;letter-spacing:1.345px;font-family:'Liberation Sans', sans-serif;-webkit-text-stroke:0.4px #54595e;">Speakers</div>
<div class="inp" style="top:894px"></div>
<div class="a" style="left:2194.00px;top:1025.11px;font-size:32px;line-height:48px;color:#54595e;font-weight:400;letter-spacing:1.562px;font-family:'Liberation Sans', sans-serif;-webkit-text-stroke:0.4px #54595e;">Session Type</div>
<div class="inp" style="top:1090px"></div>
<div class="a" style="left:2194.00px;top:1220.81px;font-size:32px;line-height:48px;color:#54595e;font-weight:400;letter-spacing:1.995px;font-family:'Liberation Sans', sans-serif;-webkit-text-stroke:0.4px #54595e;">Skill Level</div>
<div class="inp" style="top:1286.5px"></div>
<div class="a" style="left:2193.00px;top:1416.71px;font-size:32px;line-height:48px;color:#54595e;font-weight:400;letter-spacing:1.804px;font-family:'Liberation Sans', sans-serif;-webkit-text-stroke:0.4px #54595e;">Recorded session</div>
<div class="rd" style="left:2195.5px;top:1487.6px"></div>
<div class="a" style="left:2238.00px;top:1478.71px;font-size:32px;line-height:48px;color:#54595e;font-weight:400;letter-spacing:0.148px;font-family:'Liberation Sans', sans-serif;-webkit-text-stroke:0.4px #54595e;">Yes</div>
<div class="rd" style="left:2303px;top:1487.6px"></div>
<div class="a" style="left:2344.30px;top:1478.71px;font-size:32px;line-height:48px;color:#54595e;font-weight:400;letter-spacing:2.091px;font-family:'Liberation Sans', sans-serif;-webkit-text-stroke:0.4px #54595e;">No</div>
<div class="rs" style="left:2401px;top:1487.6px"></div>
<div class="a" style="left:2443.80px;top:1478.71px;font-size:32px;line-height:48px;color:#54595e;font-weight:400;letter-spacing:2.223px;font-family:'Liberation Sans', sans-serif;-webkit-text-stroke:0.4px #54595e;">All</div>
</body></html>
